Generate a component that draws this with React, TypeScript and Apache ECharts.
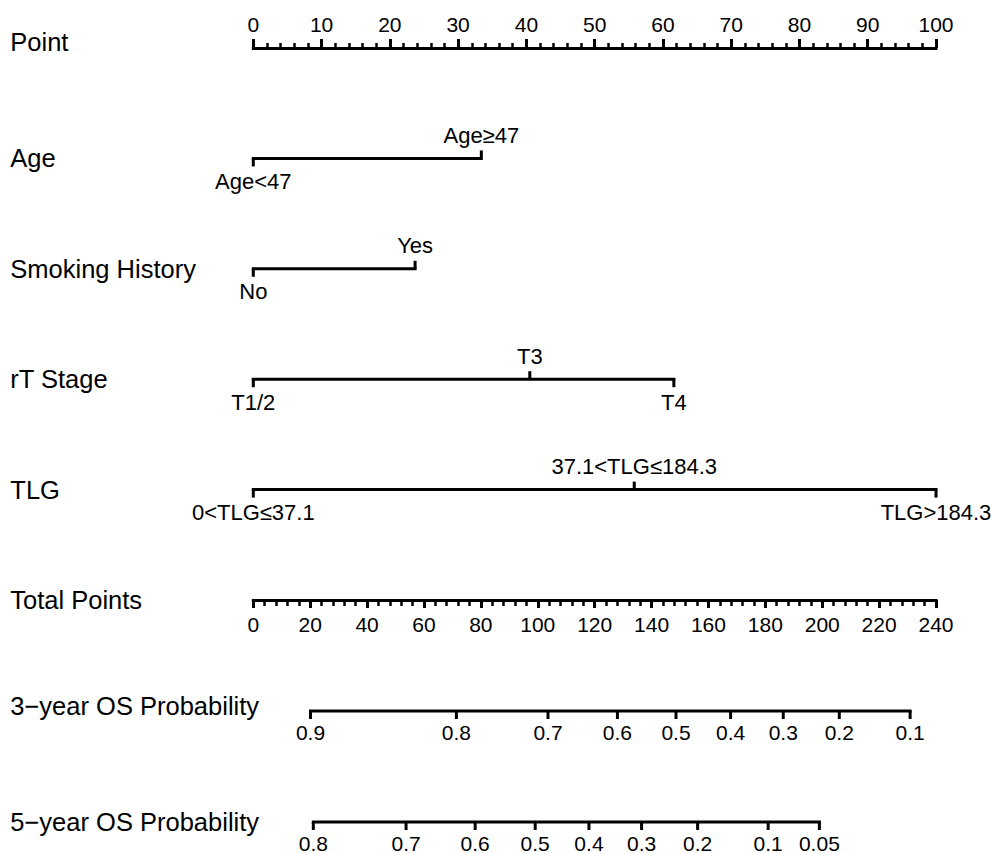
import React, { useEffect, useRef } from "react";
import * as echarts from "echarts";

const FONT = '"Liberation Sans", Arial, Helvetica, sans-serif';

// Row names
const upperRowNames = ["Point", "Age", "Smoking History", "rT Stage", "TLG"];
const lowerRowNames = ["Total Points", "3\u2212year OS Probability", "5\u2212year OS Probability"];

// Point scale
const pointsMax = 100;
const pointsInterval = 10;
const totalPointsMax = 240;
const totalPointsInterval = 20;

// Factor levels and their points
const ageLevels = ["Age<47", "Age\u226547"];
const agePoints = [0, 33.4];
const smokingLevels = ["No", "Yes"];
const smokingPoints = [0, 23.7];
const rtLevels = ["T1/2", "T3", "T4"];
const rtPoints = [0, 40.5, 61.6];
const tlgLevels = ["0<TLG\u226437.1", "37.1<TLG\u2264184.3", "TLG>184.3"];
const tlgPoints = [0, 55.8, 100];

// Probability scales (total points positions)
const os3Probs = [0.9, 0.8, 0.7, 0.6, 0.5, 0.4, 0.3, 0.2, 0.1];
const os3TotalPoints = [20.1, 71.4, 103.6, 128.0, 148.6, 167.8, 186.3, 206.0, 230.9];
const os5Probs = [0.8, 0.7, 0.6, 0.5, 0.4, 0.3, 0.2, 0.1, 0.05];
const os5TotalPoints = [21.1, 53.7, 78.0, 99.1, 118.0, 136.5, 156.2, 181.0, 199.0];

const LINE_W = 3;
const ROW_FONT = 25.5;
const VALUE_FONT = 22;
const TICK_FONT = 21;

function factorSeries(levels: string[], points: number[], row: number) {
  const maxP = Math.max(...points);
  return {
    type: "custom",
    xAxisIndex: 0,
    yAxisIndex: 0,
    clip: false,
    silent: true,
    data: points.map((p, i) => [p, row, i]),
    renderItem: (params: any, api: any) => {
      const i = params.dataIndex;
      const p = api.coord([api.value(0), api.value(1)]);
      const dir = i % 2 === 0 ? 1 : -1;
      const children: any[] = [];
      if (i === 0) {
        const end = api.coord([maxP, row]);
        children.push({
          type: "line",
          shape: { x1: p[0], y1: p[1], x2: end[0], y2: end[1] },
          style: { stroke: "#000", lineWidth: LINE_W, lineCap: "square" },
        });
      }
      children.push({
        type: "line",
        shape: { x1: p[0], y1: p[1], x2: p[0], y2: p[1] + dir * 8 },
        style: { stroke: "#000", lineWidth: LINE_W },
      });
      children.push({
        type: "text",
        x: p[0],
        y: p[1] + dir * 23,
        style: {
          text: levels[i],
          align: "center",
          verticalAlign: "middle",
          fontSize: VALUE_FONT,
          fontFamily: FONT,
          fill: "#000",
        },
      });
      return { type: "group", children };
    },
  };
}

function probSeries(probs: number[], tps: number[], row: number) {
  return {
    type: "custom",
    xAxisIndex: 1,
    yAxisIndex: 1,
    clip: false,
    silent: true,
    data: tps.map((t, i) => [t, row, i]),
    renderItem: (params: any, api: any) => {
      const i = params.dataIndex;
      const p = api.coord([api.value(0), api.value(1)]);
      const children: any[] = [];
      if (i === 0) {
        const end = api.coord([tps[tps.length - 1], row]);
        children.push({
          type: "line",
          shape: { x1: p[0], y1: p[1], x2: end[0], y2: end[1] },
          style: { stroke: "#000", lineWidth: LINE_W, lineCap: "square" },
        });
      }
      children.push({
        type: "line",
        shape: { x1: p[0], y1: p[1], x2: p[0], y2: p[1] + 8 },
        style: { stroke: "#000", lineWidth: LINE_W },
      });
      children.push({
        type: "text",
        x: p[0],
        y: p[1] + 21,
        style: {
          text: String(probs[i]),
          align: "center",
          verticalAlign: "middle",
          fontSize: TICK_FONT,
          fontFamily: FONT,
          fill: "#000",
        },
      });
      return { type: "group", children };
    },
  };
}

const rowRich = {
  n: { fontSize: ROW_FONT, fontFamily: FONT, color: "#000" },
  up: { fontSize: ROW_FONT, fontFamily: FONT, color: "#000", padding: [0, 0, 12, 0] },
  up2: { fontSize: ROW_FONT, fontFamily: FONT, color: "#000", padding: [0, 0, 10, 0] },
};

export default function App() {
  const ref = useRef<HTMLDivElement>(null);
  useEffect(() => {
    if (!ref.current) return;
    const chart = echarts.init(ref.current, undefined, { renderer: "svg" });
    const hiddenY = {
      axisLine: { show: false },
      axisTick: { show: false },
      splitLine: { show: false },
    };
    chart.setOption({
      animation: false,
      backgroundColor: "#fff",
      textStyle: { fontFamily: FONT },
      grid: [
        { left: 253.3, right: 55, top: 48, height: 552 },
        { left: 253.3, right: 55, top: 600, height: 222 },
      ],
      xAxis: [
        {
          type: "value",
          gridIndex: 0,
          position: "top",
          min: 0,
          max: pointsMax,
          interval: pointsInterval,
          axisLine: { show: true, onZero: false, lineStyle: { color: "#000", width: LINE_W, cap: "square" } },
          axisTick: { show: true, inside: false, length: 9, lineStyle: { color: "#000", width: LINE_W } },
          minorTick: { show: true, splitNumber: 5, length: 5, lineStyle: { color: "#000", width: 2.5 } },
          axisLabel: { color: "#000", fontSize: TICK_FONT, fontFamily: FONT, margin: 13 },
          splitLine: { show: false },
        },
        {
          type: "value",
          gridIndex: 1,
          position: "top",
          min: 0,
          max: totalPointsMax,
          interval: totalPointsInterval,
          axisLine: { show: true, onZero: false, lineStyle: { color: "#000", width: LINE_W, cap: "square" } },
          axisTick: { show: true, inside: true, length: 8, lineStyle: { color: "#000", width: LINE_W } },
          minorTick: { show: true, splitNumber: 5, length: 6, lineStyle: { color: "#000", width: 2.5 } },
          axisLabel: { inside: true, color: "#000", fontSize: TICK_FONT, fontFamily: FONT, margin: 14 },
          splitLine: { show: false },
        },
      ],
      yAxis: [
        {
          type: "value",
          gridIndex: 0,
          min: 0,
          max: 5,
          interval: 1,
          inverse: true,
          ...hiddenY,
          axisLabel: {
            align: "left",
            margin: 243,
            color: "#000",
            fontSize: ROW_FONT,
            fontFamily: FONT,
            rich: rowRich,
            formatter: (v: number) => {
              const name = upperRowNames[v];
              if (!name) return "";
              return v === 0 ? `{up|${name}}` : `{n|${name}}`;
            },
          },
        },
        {
          type: "value",
          gridIndex: 1,
          min: 0,
          max: 2,
          interval: 1,
          inverse: true,
          ...hiddenY,
          axisLabel: {
            align: "left",
            margin: 243,
            color: "#000",
            fontSize: ROW_FONT,
            fontFamily: FONT,
            rich: rowRich,
            formatter: (v: number) => {
              const name = lowerRowNames[v];
              if (!name) return "";
              return v === 1 ? `{up2|${name}}` : `{n|${name}}`;
            },
          },
        },
      ],
      series: [
        factorSeries(ageLevels, agePoints, 1),
        factorSeries(smokingLevels, smokingPoints, 2),
        factorSeries(rtLevels, rtPoints, 3),
        factorSeries(tlgLevels, tlgPoints, 4),
        probSeries(os3Probs, os3TotalPoints, 1),
        probSeries(os5Probs, os5TotalPoints, 2),
      ],
    });
    return () => chart.dispose();
  }, []);
  return (
    <div
      ref={ref}
      style={{ position: "absolute", left: 0, top: 0, width: 991, height: 853, background: "#fff" }}
    />
  );
}
